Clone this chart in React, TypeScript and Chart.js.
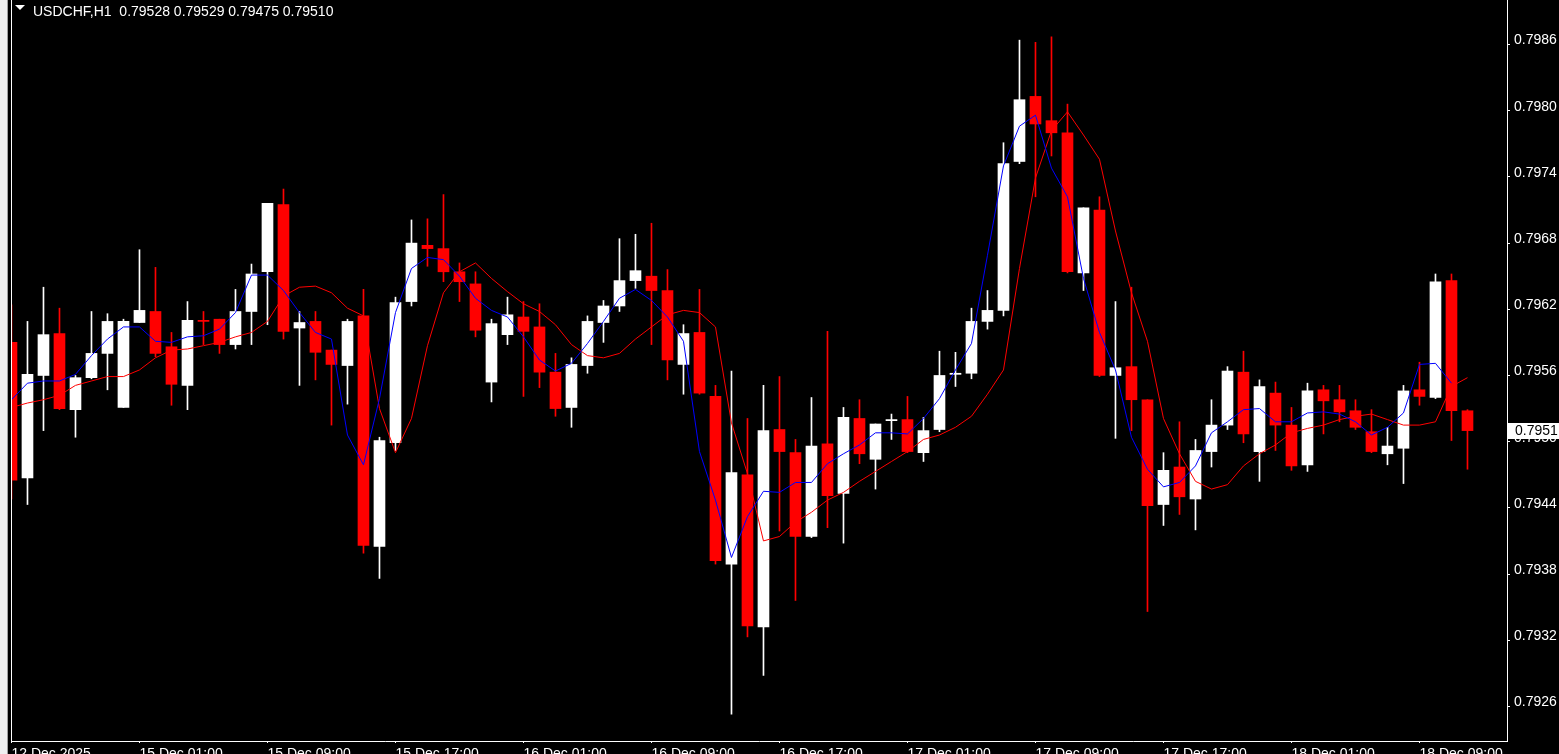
import React, { useEffect, useRef } from 'react';
import { Chart, registerables } from 'chart.js';

Chart.register(...registerables);

// ---------- data ----------
const SYMBOL_TITLE = 'USDCHF,H1  0.79528 0.79529 0.79475 0.79510';
const BID_LABEL = '0.7951';

const X_TICK_INDEX = [0, 8, 16, 24, 32, 40, 48, 56, 64, 72, 80, 88];
const X_TICK_LABELS = [
  '12 Dec 2025', '15 Dec 01:00', '15 Dec 09:00', '15 Dec 17:00', '16 Dec 01:00', '16 Dec 09:00',
  '16 Dec 17:00', '17 Dec 01:00', '17 Dec 09:00', '17 Dec 17:00', '18 Dec 01:00', '18 Dec 09:00',
];
const Y_TICK_LABELS = ['0.7926', '0.7932', '0.7938', '0.7944', '0.7950', '0.7956', '0.7962', '0.7968', '0.7974', '0.7980', '0.7986'];

const OPEN = [
  0.79590, 0.79467, 0.79560, 0.79598, 0.79529, 0.79558, 0.79580, 0.79531, 0.79608, 0.79618,
  0.79586, 0.79551, 0.79610, 0.79611, 0.79588, 0.79618, 0.79654, 0.79715, 0.79603, 0.79609,
  0.79583, 0.79569, 0.79614, 0.79405, 0.79499, 0.79627, 0.79678, 0.79675, 0.79654, 0.79643,
  0.79554, 0.79597, 0.79613, 0.79604, 0.79563, 0.79531, 0.79569, 0.79608, 0.79623, 0.79646,
  0.79650, 0.79637, 0.79570, 0.79599, 0.79541, 0.79389, 0.79470, 0.79332, 0.79511, 0.79490,
  0.79414, 0.79498, 0.79453, 0.79521, 0.79484, 0.79519, 0.79520, 0.79490, 0.79511, 0.79561,
  0.79562, 0.79609, 0.79619, 0.79754, 0.79813, 0.79791, 0.79780, 0.79653, 0.79710, 0.79560,
  0.79568, 0.79538, 0.79443, 0.79477, 0.79448, 0.79491, 0.79515, 0.79563, 0.79491, 0.79544,
  0.79515, 0.79479, 0.79547, 0.79538, 0.79528, 0.79509, 0.79489, 0.79494, 0.79547, 0.79540,
  0.79646, 0.79528,
];
const HIGH = [
  0.79624, 0.79609, 0.79640, 0.79621, 0.79560, 0.79618, 0.79616, 0.79611, 0.79674, 0.79658,
  0.79599, 0.79627, 0.79618, 0.79611, 0.79638, 0.79661, 0.79716, 0.79729, 0.79618, 0.79618,
  0.79583, 0.79611, 0.79638, 0.79504, 0.79631, 0.79701, 0.79702, 0.79724, 0.79662, 0.79654,
  0.79611, 0.79631, 0.79627, 0.79625, 0.79580, 0.79576, 0.79614, 0.79628, 0.79684, 0.79688,
  0.79698, 0.79656, 0.79606, 0.79638, 0.79551, 0.79564, 0.79521, 0.79551, 0.79559, 0.79502,
  0.79540, 0.79600, 0.79531, 0.79538, 0.79516, 0.79525, 0.79541, 0.79522, 0.79582, 0.79581,
  0.79621, 0.79637, 0.79771, 0.79864, 0.79862, 0.79867, 0.79806, 0.79712, 0.79722, 0.79627,
  0.79640, 0.79538, 0.79490, 0.79518, 0.79502, 0.79538, 0.79568, 0.79582, 0.79556, 0.79554,
  0.79531, 0.79553, 0.79551, 0.79551, 0.79538, 0.79529, 0.79513, 0.79551, 0.79572, 0.79652,
  0.79652, 0.79529,
];
const LOW = [
  0.79448, 0.79443, 0.79510, 0.79529, 0.79504, 0.79557, 0.79547, 0.79531, 0.79608, 0.79577,
  0.79533, 0.79529, 0.79588, 0.79580, 0.79584, 0.79588, 0.79606, 0.79593, 0.79551, 0.79556,
  0.79515, 0.79534, 0.79399, 0.79376, 0.79492, 0.79623, 0.79659, 0.79645, 0.79627, 0.79595,
  0.79536, 0.79588, 0.79541, 0.79549, 0.79523, 0.79513, 0.79562, 0.79590, 0.79618, 0.79639,
  0.79588, 0.79556, 0.79543, 0.79543, 0.79389, 0.79253, 0.79323, 0.79288, 0.79419, 0.79356,
  0.79413, 0.79422, 0.79408, 0.79480, 0.79457, 0.79502, 0.79490, 0.79482, 0.79509, 0.79550,
  0.79557, 0.79602, 0.79614, 0.79752, 0.79722, 0.79759, 0.79653, 0.79637, 0.79559, 0.79503,
  0.79510, 0.79346, 0.79424, 0.79434, 0.79420, 0.79477, 0.79511, 0.79499, 0.79464, 0.79492,
  0.79474, 0.79473, 0.79507, 0.79518, 0.79511, 0.79490, 0.79479, 0.79462, 0.79533, 0.79539,
  0.79501, 0.79475,
];
const CLOSE = [
  0.79465, 0.79561, 0.79597, 0.79530, 0.79558, 0.79580, 0.79609, 0.79609, 0.79619, 0.79580,
  0.79552, 0.79610, 0.79609, 0.79588, 0.79618, 0.79652, 0.79716, 0.79600, 0.79608, 0.79581,
  0.79570, 0.79609, 0.79406, 0.79501, 0.79626, 0.79680, 0.79675, 0.79654, 0.79645, 0.79601,
  0.79607, 0.79615, 0.79600, 0.79563, 0.79530, 0.79570, 0.79609, 0.79623, 0.79646, 0.79655,
  0.79637, 0.79574, 0.79598, 0.79544, 0.79392, 0.79472, 0.79333, 0.79510, 0.79491, 0.79414,
  0.79496, 0.79451, 0.79522, 0.79489, 0.79516, 0.79520, 0.79491, 0.79510, 0.79560, 0.79562,
  0.79609, 0.79619, 0.79752, 0.79810, 0.79788, 0.79780, 0.79654, 0.79712, 0.79560, 0.79567,
  0.79538, 0.79442, 0.79474, 0.79450, 0.79492, 0.79515, 0.79564, 0.79507, 0.79550, 0.79515,
  0.79478, 0.79546, 0.79537, 0.79527, 0.79513, 0.79491, 0.79496, 0.79546, 0.79541, 0.79645,
  0.79528, 0.79510,
];
// blue (fast) moving average as drawn
const MA_FAST = [
  0.79538, 0.79553, 0.79555, 0.79555, 0.79561, 0.79578, 0.79593, 0.79604, 0.79604, 0.79591,
  0.79590, 0.79595, 0.79596, 0.79602, 0.79617, 0.79651, 0.79651, 0.79637, 0.79617, 0.79599,
  0.79593, 0.79506, 0.79479, 0.79539, 0.79617, 0.79657, 0.79667, 0.79665, 0.79650, 0.79630,
  0.79619, 0.79613, 0.79595, 0.79574, 0.79564, 0.79571, 0.79589, 0.79609, 0.79630, 0.79638,
  0.79628, 0.79613, 0.79591, 0.79491, 0.79447, 0.79395, 0.79432, 0.79455, 0.79454, 0.79463,
  0.79463, 0.79480, 0.79489, 0.79497, 0.79508, 0.79508, 0.79507, 0.79521, 0.79539, 0.79565,
  0.79589, 0.79669, 0.79750, 0.79786, 0.79796, 0.79748, 0.79722, 0.79648, 0.79599, 0.79565,
  0.79504, 0.79475, 0.79459, 0.79463, 0.79478, 0.79508, 0.79518, 0.79529, 0.79530, 0.79518,
  0.79518, 0.79526, 0.79527, 0.79525, 0.79518, 0.79506, 0.79513, 0.79526, 0.79570, 0.79571,
  0.79553, null,
];
// red (slow) moving average as drawn
const MA_SLOW = [
  0.79531, 0.79535, 0.79538, 0.79542, 0.79551, 0.79555, 0.79559, 0.79559, 0.79565, 0.79576,
  0.79583, 0.79584, 0.79587, 0.79590, 0.79595, 0.79599, 0.79609, 0.79632, 0.79640, 0.79641,
  0.79635, 0.79621, 0.79614, 0.79530, 0.79490, 0.79521, 0.79587, 0.79635, 0.79654, 0.79662,
  0.79648, 0.79636, 0.79625, 0.79618, 0.79606, 0.79588, 0.79578, 0.79576, 0.79580, 0.79593,
  0.79604, 0.79615, 0.79619, 0.79617, 0.79604, 0.79517, 0.79471, 0.79410, 0.79414, 0.79427,
  0.79436, 0.79447, 0.79454, 0.79464, 0.79473, 0.79482, 0.79491, 0.79502, 0.79506, 0.79513,
  0.79523, 0.79543, 0.79565, 0.79657, 0.79739, 0.79782, 0.79799, 0.79778, 0.79756, 0.79691,
  0.79635, 0.79591, 0.79521, 0.79489, 0.79464, 0.79457, 0.79461, 0.79478, 0.79489, 0.79497,
  0.79508, 0.79512, 0.79515, 0.79520, 0.79523, 0.79525, 0.79520, 0.79515, 0.79515, 0.79518,
  0.79550, 0.79558,
];

// ---------- layout / style ----------
const W = 1559;
const H = 754;
const PLOT_LEFT = 11;
const AXIS_W = 52;
const AXIS_H = 13;
const X_MIN = -0.03;
const X_MAX = 93.47;
const Y_MIN = 0.792286;
const Y_MAX = 0.799004;
const BULL = '#FFFFFF';
const BEAR = '#FF0000';
const FONT_FAMILY = "'Liberation Sans', Arial, sans-serif";

const decorPlugin = {
  id: 'mt4decor',
  beforeDraw(chart: any) {
    const { ctx, width, height } = chart;
    ctx.save();
    ctx.fillStyle = '#000000';
    ctx.fillRect(0, 0, width, height);
    ctx.fillStyle = '#F0F0F0';
    ctx.fillRect(0, 0, 7, height);
    ctx.fillStyle = '#A0A0A0';
    ctx.fillRect(7, 0, 1, height);
    ctx.restore();
  },
  afterDraw(chart: any) {
    const { ctx, chartArea, scales } = chart;
    ctx.save();
    // left frame line
    ctx.fillStyle = '#FFFFFF';
    ctx.fillRect(chartArea.left, chartArea.top, 1, chartArea.bottom - chartArea.top + 1);
    // current price label
    const py = scales.y.getPixelForValue(CLOSE[CLOSE.length - 1]);
    ctx.fillStyle = '#FFFFFF';
    ctx.fillRect(chartArea.right + 1, Math.round(py) - 8, 60, 16);
    ctx.fillStyle = '#000000';
    ctx.font = `14px ${FONT_FAMILY}`;
    ctx.textBaseline = 'middle';
    ctx.textAlign = 'left';
    ctx.fillText(BID_LABEL, chartArea.right + 8, py + 1);
    // title
    ctx.fillStyle = '#FFFFFF';
    ctx.beginPath();
    ctx.moveTo(15, 5);
    ctx.lineTo(25, 5);
    ctx.lineTo(20, 10);
    ctx.closePath();
    ctx.fill();
    ctx.textBaseline = 'alphabetic';
    ctx.fillText(SYMBOL_TITLE, 33, 16);
    ctx.restore();
  },
};

export default function App() {
  const ref = useRef<HTMLCanvasElement | null>(null);

  useEffect(() => {
    document.body.style.margin = '0';
    document.body.style.overflow = 'hidden';
    document.body.style.background = '#000';
    const canvas = ref.current;
    if (!canvas) return;

    const colors = OPEN.map((o, i) => (CLOSE[i] >= o ? BULL : BEAR));
    const font = { family: FONT_FAMILY, size: 14 };

    const chart = new Chart(canvas, {
      type: 'bar',
      data: {
        datasets: [
          {
            type: 'line',
            label: 'MA fast',
            data: MA_FAST.map((v, i) => ({ x: i, y: v })),
            borderColor: '#0000FF',
            borderWidth: 1,
            pointRadius: 0,
            tension: 0,
            fill: false,
            order: 0,
            clip: 0,
          } as any,
          {
            type: 'line',
            label: 'MA slow',
            data: MA_SLOW.map((v, i) => ({ x: i, y: v })),
            borderColor: '#FF0000',
            borderWidth: 1,
            pointRadius: 0,
            tension: 0,
            fill: false,
            order: 0,
            clip: 0,
          } as any,
          {
            type: 'bar',
            label: 'body',
            data: OPEN.map((o, i) => ({ x: i, y: [o, CLOSE[i]] })),
            backgroundColor: colors,
            borderWidth: 0,
            barThickness: 11,
            minBarLength: 1,
            grouped: false,
            order: 1,
            clip: 0,
          } as any,
          {
            type: 'bar',
            label: 'wick',
            data: LOW.map((l, i) => ({ x: i, y: [l, HIGH[i]] })),
            backgroundColor: colors,
            borderWidth: 0,
            barThickness: 1,
            grouped: false,
            order: 2,
            clip: 0,
          } as any,
        ],
      },
      options: {
        animation: false,
        responsive: false,
        devicePixelRatio: 1,
        events: [],
        layout: { padding: { left: PLOT_LEFT, top: 0, right: 0, bottom: 0 } },
        plugins: { legend: { display: false }, tooltip: { enabled: false }, title: { display: false } },
        scales: {
          x: {
            type: 'linear',
            min: X_MIN,
            max: X_MAX,
            bounds: 'data',
            offset: false,
            grid: { display: true, offset: false, drawOnChartArea: false, drawTicks: true, tickLength: 2, color: '#FFFFFF' },
            border: { display: true, color: '#FFFFFF', width: 1 },
            ticks: {
              color: '#FFFFFF',
              font,
              align: 'start',
              padding: 3,
              autoSkip: false,
              maxRotation: 0,
              minRotation: 0,
              callback: (_v: any, i: number) => X_TICK_LABELS[i] ?? '',
            },
            afterBuildTicks: (s: any) => {
              s.ticks = X_TICK_INDEX.map((v) => ({ value: v }));
            },
            afterFit: (s: any) => {
              s.height = AXIS_H;
              s.paddingLeft = 0;
              s.paddingRight = 0;
            },
          } as any,
          y: {
            type: 'linear',
            position: 'right',
            min: Y_MIN,
            max: Y_MAX,
            bounds: 'data',
            beginAtZero: false,
            grid: { display: true, drawOnChartArea: false, drawTicks: true, tickLength: 3, color: '#FFFFFF' },
            border: { display: true, color: '#FFFFFF', width: 1 },
            ticks: {
              color: '#FFFFFF',
              font,
              padding: 4,
              labelOffset: -4,
              autoSkip: false,
              callback: (_v: any, i: number) => Y_TICK_LABELS[i] ?? '',
            },
            afterBuildTicks: (s: any) => {
              s.ticks = Y_TICK_LABELS.map((t) => ({ value: parseFloat(t) }));
            },
            afterFit: (s: any) => {
              s.width = AXIS_W;
              s.paddingTop = 0;
              s.paddingBottom = 0;
            },
          } as any,
        },
      },
      plugins: [decorPlugin],
    });

    return () => {
      chart.destroy();
    };
  }, []);

  return (
    <div style={{ width: W, height: H, position: 'relative', overflow: 'hidden', background: '#000' }}>
      <canvas ref={ref} width={W} height={H} style={{ display: 'block', width: W, height: H }} />
    </div>
  );
}
